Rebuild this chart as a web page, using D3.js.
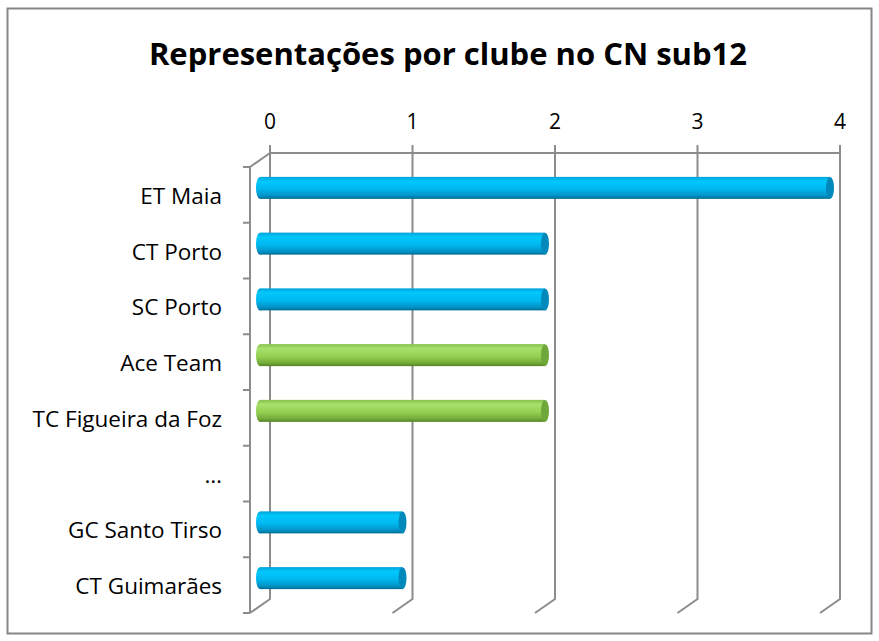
<!DOCTYPE html>
<html>
<head>
  <meta charset="utf-8">
</head>
<body>
  <style>
    body {
      margin: 0;
      background-color: #fff;
    }
    text {
      font-family: "Open Sans", sans-serif;
      fill: #000;
    }
  </style>
  <svg id='viz'></svg>

  <script src='https://d3js.org/d3.v7.min.js'></script>
  <script>
    var width = 879;
    var height = 641;

    // chart values
    var categories = ["ET Maia", "CT Porto", "SC Porto", "Ace Team", "TC Figueira da Foz", "…", "GC Santo Tirso", "CT Guimarães"];
    var values = [4, 2, 2, 2, 2, 0, 1, 1];
    var highlighted = [0, 0, 0, 1, 1, 0, 0, 0];
    var tickValues = [0, 1, 2, 3, 4];
    var title = "Representações por clube no CN sub12";

    // front plane of the 3d box, back plane is shifted by depth
    var front = { left: 250, right: 820, top: 167, bottom: 613 };
    var depth = { x: 20, y: -14 };

    var x = d3.scaleLinear().domain([0, 4]).range([front.left, front.right]);
    var y = d3.scaleBand().domain(categories).range([front.top, front.bottom]);

    var svg = d3.select("#viz").attr("width", width).attr("height", height);

    // outer border
    svg.append("rect")
      .attr("x", 7.5).attr("y", 8.5)
      .attr("width", 864).attr("height", 625)
      .attr("fill", "#fff")
      .attr("stroke", "#868686")
      .attr("stroke-width", 2);

    svg.append("text")
      .attr("x", 448).attr("y", 65)
      .attr("text-anchor", "middle")
      .style("font-size", "31px")
      .style("font-weight", "bold")
      .text(title);

    var defs = svg.append("defs");

    function cylGradient(id, stops) {
      var g = defs.append("linearGradient").attr("id", id)
        .attr("x1", 0).attr("y1", 0).attr("x2", 0).attr("y2", 1);
      stops.forEach(function(s) {
        g.append("stop").attr("offset", s[0]).attr("stop-color", s[1]);
      });
    }
    cylGradient("blue", [[0, "#00a2da"], [0.2, "#00c8fc"], [0.55, "#00b8f0"], [0.85, "#0094c8"], [1, "#006c94"]]);
    cylGradient("green", [[0, "#86c04a"], [0.2, "#a8e06c"], [0.55, "#94d252"], [0.85, "#74ac3a"], [1, "#568526"]]);
    var capColor = ["#0089ba", "#6ea83a"];

    var grid = svg.append("g")
      .attr("stroke", "#8c8c8c")
      .attr("stroke-width", 2)
      .attr("fill", "none");

    // back wall top line and vertical gridlines
    grid.append("line")
      .attr("x1", x(0) + depth.x).attr("x2", x(4) + depth.x)
      .attr("y1", front.top + depth.y).attr("y2", front.top + depth.y);

    tickValues.forEach(function(t) {
      var bx = x(t) + depth.x;
      grid.append("path")
        .attr("d", "M" + bx + "," + (front.top + depth.y - 8) +
          "L" + bx + "," + (front.bottom + depth.y) +
          "L" + x(t) + "," + front.bottom);
    });

    // left side: diagonal at top and front axis line
    grid.append("path")
      .attr("d", "M" + (x(0) + depth.x) + "," + (front.top + depth.y) +
        "L" + x(0) + "," + front.top +
        "L" + x(0) + "," + front.bottom);

    // category ticks
    var bounds = categories.map(function(c) { return y(c); }).concat([front.bottom]);
    bounds.forEach(function(b) {
      grid.append("line")
        .attr("x1", x(0) - 7).attr("x2", x(0))
        .attr("y1", b).attr("y2", b);
    });

    // tick labels on top
    svg.append("g").selectAll("text")
      .data(tickValues)
      .enter()
      .append("text")
      .attr("x", function(d) { return x(d) + depth.x; })
      .attr("y", 129)
      .attr("text-anchor", "middle")
      .style("font-size", "21px")
      .text(function(d) { return d; });

    // category labels
    svg.append("g").selectAll("text")
      .data(categories)
      .enter()
      .append("text")
      .attr("x", 222)
      .attr("y", function(d) { return y(d) + y.bandwidth() / 2 + 9; })
      .attr("text-anchor", "end")
      .style("font-size", "22.5px")
      .text(function(d) { return d; });

    // cylinders, drawn at half depth
    var r = 11, rx = 4;
    var bars = svg.append("g").selectAll("g")
      .data(categories.map(function(c, i) {
        return { cat: c, value: values[i], hl: highlighted[i] };
      }).filter(function(d) { return d.value > 0; }))
      .enter()
      .append("g")
      .attr("transform", function(d) {
        return "translate(" + (depth.x / 2) + "," + (y(d.cat) + y.bandwidth() / 2 + depth.y / 2) + ")";
      });

    bars.append("ellipse")
      .attr("cx", x(0)).attr("cy", 0)
      .attr("rx", rx).attr("ry", r)
      .attr("fill", function(d) { return d.hl ? "url(#green)" : "url(#blue)"; });

    bars.append("rect")
      .attr("x", x(0))
      .attr("y", -r)
      .attr("width", function(d) { return x(d.value) - x(0); })
      .attr("height", 2 * r)
      .attr("fill", function(d) { return d.hl ? "url(#green)" : "url(#blue)"; });

    bars.append("ellipse")
      .attr("cx", function(d) { return x(d.value); })
      .attr("cy", 0)
      .attr("rx", rx).attr("ry", r)
      .attr("fill", function(d) { return capColor[d.hl]; });
  </script>
</body>
</html>
